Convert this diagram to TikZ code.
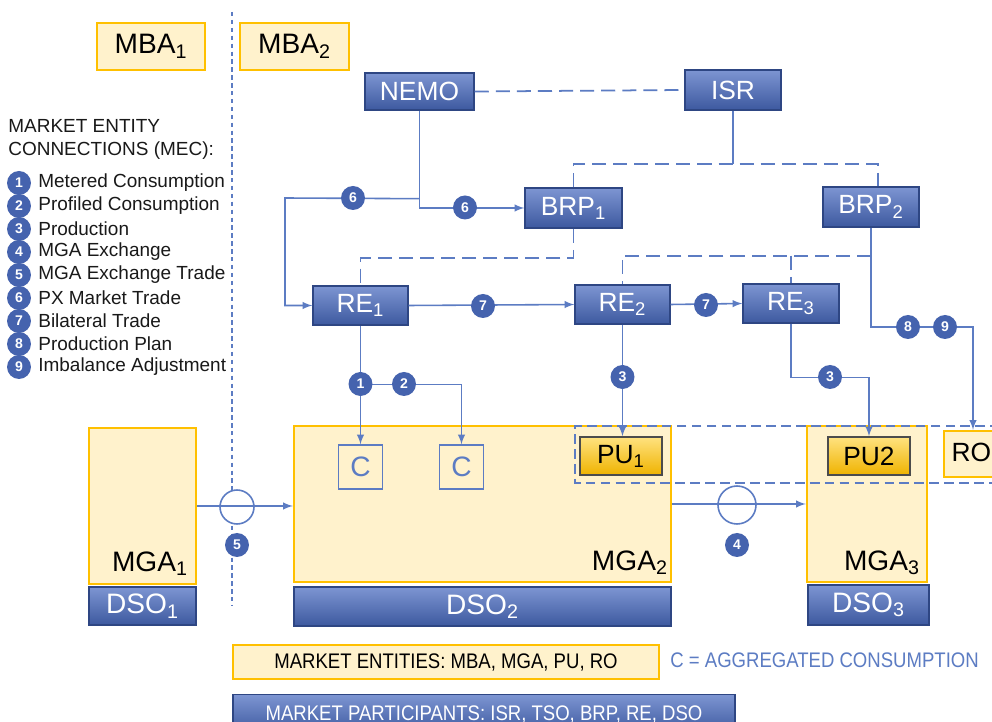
\documentclass[tikz,border=0pt]{standalone}
\usepackage{fontspec}
\setmainfont{Liberation Sans}
\newfontfamily\narrowsans[FakeStretch=0.88]{Liberation Sans}
\usetikzlibrary{calc}

\definecolor{mecblue}{HTML}{4563AE}
\definecolor{linkblue}{HTML}{5C7CC3}
\definecolor{boxtop}{HTML}{7D95D2}
\definecolor{boxbot}{HTML}{3D599F}
\definecolor{boxedge}{HTML}{2E4683}
\definecolor{entfill}{HTML}{FFF2CC}
\definecolor{entedge}{HTML}{FFC000}
\definecolor{putop}{HTML}{FFE27F}
\definecolor{pubot}{HTML}{EFB300}

\tikzset{
  participant/.style={draw=boxedge, line width=0.8pt, top color=boxtop, bottom color=boxbot,
    text=white, inner sep=0pt, font=\fontsize{15}{15}\selectfont},
  entity/.style={draw=entedge, line width=1.4pt, fill=entfill, inner sep=0pt},
  produnit/.style={draw=black!70, line width=0.9pt, top color=putop, bottom color=pubot,
    inner sep=0pt, minimum width=1.64cm, minimum height=0.76cm, font=\fontsize{15}{15}\selectfont},
  aggbox/.style={draw=linkblue, line width=0.8pt, text=linkblue, inner sep=0pt,
    minimum width=0.88cm, minimum height=0.88cm, font=\fontsize{16}{16}\selectfont},
  badge/.style={circle, fill=mecblue, text=white, inner sep=0pt, minimum size=0.48cm,
    font=\bfseries\fontsize{8}{8}\selectfont},
  exchange/.style={circle, draw=linkblue, line width=0.9pt, fill=white, inner sep=0pt},
  link/.style={draw=linkblue, line width=0.9pt},
  flow/.style={link, -latex},
  relation/.style={draw=linkblue, line width=1pt, dash pattern=on 8pt off 4pt},
  legendtext/.style={text=black!90, inner sep=0pt, font=\fontsize{10.8}{13}\selectfont},
}

\begin{document}
\begin{tikzpicture}[x=0.02cm, y=-0.02cm]
    \path[use as bounding box, fill=white] (0,0) rectangle (992,722);
    \clip (0,0) rectangle (992,722);

    % bidding areas and border between them
    \node[entity, minimum width=2.16cm, minimum height=0.94cm, font=\fontsize{16}{16}\selectfont] (mba1) at (151,46.5) {MBA\textsubscript{1}};
    \node[entity, minimum width=2.18cm, minimum height=0.94cm, font=\fontsize{16}{16}\selectfont] (mba2) at (294.5,46.5) {MBA\textsubscript{2}};
    \draw[linkblue, line width=1pt, dash pattern=on 2.5pt off 2pt] (232,12) -- (232,605);

    % legend
    \node[legendtext, anchor=north west, align=left] (mectitle) at (8,119) {MARKET ENTITY\\CONNECTIONS (MEC):};
    \foreach \n/\txt in {1/Metered Consumption, 2/Profiled Consumption, 3/Production,
        4/MGA Exchange, 5/MGA Exchange Trade, 6/PX Market Trade, 7/Bilateral Trade,
        8/Production Plan, 9/Imbalance Adjustment} {
      \node[badge] (mec\n) at (19,{160+23*\n}) {\n};
      \node[legendtext, anchor=west] (mectxt\n) at (38,{160+23*\n}) {\txt};
    }

    % market participants
    \node[participant, minimum width=2.18cm, minimum height=0.74cm] (nemo) at (419.5,91.5) {NEMO};
    \node[participant, minimum width=1.92cm, minimum height=0.80cm] (isr) at (733,90) {ISR};
    \node[participant, minimum width=1.94cm, minimum height=0.80cm] (brp1) at (573.5,208) {BRP\textsubscript{1}};
    \node[participant, minimum width=1.92cm, minimum height=0.80cm] (brp2) at (871,207) {BRP\textsubscript{2}};
    \node[participant, minimum width=1.90cm, minimum height=0.78cm] (re1) at (360.5,305.5) {RE\textsubscript{1}};
    \node[participant, minimum width=1.90cm, minimum height=0.78cm] (re2) at (622.5,304.5) {RE\textsubscript{2}};
    \node[participant, minimum width=1.92cm, minimum height=0.78cm] (re3) at (791,303.5) {RE\textsubscript{3}};

    % metering grid areas
    \node[entity, minimum width=2.14cm, minimum height=3.12cm] (mga1) at (142.5,506) {};
    \node[entity, minimum width=7.54cm, minimum height=3.12cm] (mga2) at (482.5,504) {};
    \node[entity, minimum width=2.40cm, minimum height=3.12cm] (mga3) at (867,504) {};
    \node[entity, minimum width=1.32cm, minimum height=0.92cm, font=\fontsize{15}{15}\selectfont] (ro) at (977,454) {RO\textsubscript{1}};
    \node[anchor=base east, inner sep=0pt, font=\fontsize{16}{16}\selectfont] (mga1lbl) at ($(mga1.south east)+(-9,-14)$) {MGA\textsubscript{1}};
    \node[anchor=base east, inner sep=0pt, font=\fontsize{16}{16}\selectfont] (mga2lbl) at ($(mga2.south east)+(-4,-13)$) {MGA\textsubscript{2}};
    \node[anchor=base east, inner sep=0pt, font=\fontsize{16}{16}\selectfont] (mga3lbl) at ($(mga3.south east)+(-8,-13)$) {MGA\textsubscript{3}};
    \node[participant, minimum width=2.14cm, minimum height=0.76cm, font=\fontsize{16}{16}\selectfont] (dso1) at (142.5,606) {DSO\textsubscript{1}};
    \node[participant, minimum width=7.54cm, minimum height=0.78cm, font=\fontsize{16}{16}\selectfont] (dso2) at (482.5,606.5) {DSO\textsubscript{2}};
    \node[participant, minimum width=2.42cm, minimum height=0.80cm, font=\fontsize{16}{16}\selectfont] (dso3) at (868.5,605) {DSO\textsubscript{3}};

    \draw[linkblue, line width=1.3pt, dash pattern=on 5.5pt off 3pt] (1000,426) -- (575,426) -- (575,483) -- (1000,483);

    \node[aggbox] (c1) at (360.5,467) {C};
    \node[aggbox] (c2) at (461.5,467) {C};
    \node[produnit] (pu1) at (621,456) {PU\textsubscript{1}};
    \node[produnit] (pu2) at (869,456) {PU2};

    % relations
    \draw[relation] (nemo.east) -- (isr.west);
    \draw[link] (isr.south) -- ++(0,53) coordinate (isrjoin);
    \draw[relation] (brp1.north) |- (isrjoin) -| ($(brp2.north)+(7,0)$);
    \draw[relation] (brp1.south) -- ++(0,29) -| (re1.north);
    \coordinate (brpjoin) at ($(brp2.south)+(0,28)$);
    \draw[relation] (brpjoin) -| (re2.north);
    \draw[relation] (re3.north |- brpjoin) -- (re3.north);

    % connections
    \coordinate (pxjoin) at ($(nemo.south)+(0,88)$);
    \coordinate (pxleft) at (285,198);
    \draw[flow] (nemo.south) |- (brp1.west);
    \draw[flow] (pxjoin) -- (pxleft) |- (re1.west);
    \draw[flow] (re1.east) -- (re2.west);
    \draw[flow] (re2.east) -- (re3.west);
    \draw[flow] (re1.south) -- (c1.north);
    \coordinate (consjoin) at ($(re1.south)+(0,59)$);
    \draw[flow] (consjoin) -| (c2.north);
    \draw[flow] (re2.south) -- (re2.south |- pu1.north);
    \draw[flow] (re3.south) -- ++(0,54) -| (pu2.north);
    \coordinate (planturn) at (973,327);
    \draw[flow] (brp2.south) |- (planturn) -- (planturn |- ro.north);

    \node[exchange, minimum size=0.68cm] (mex1) at (237,507) {};
    \node[exchange, minimum size=0.76cm] (mex2) at (737,505) {};
    \draw[flow] (mga1.east) -- (mga2.west |- mga1.east);
    \draw[flow] (mga2.east) -- (mga3.west);

    \node[badge] (b6a) at (353,198) {6};
    \node[badge] (b6b) at (465,207.5) {6};
    \node[badge] (b7a) at (483,306) {7};
    \node[badge] (b7b) at (706,305) {7};
    \node[badge] (b1) at (360.5,384) {1};
    \node[badge] (b2) at (404,384) {2};
    \node[badge] (b3a) at (622.5,377) {3};
    \node[badge] (b3b) at (830,377) {3};
    \node[badge] (b8) at (908,327) {8};
    \node[badge] (b9) at (945,327) {9};
    \node[badge] (b5) at (237,545) {5};
    \node[badge] (b4) at (737,545) {4};

    % key
    \node[entity, minimum width=8.52cm, minimum height=0.68cm, font=\narrowsans\fontsize{12}{12}\selectfont] (entkey) at (446,662) {MARKET ENTITIES: MBA, MGA, PU, RO};
    \node[anchor=west, inner sep=0pt, text=linkblue, font=\narrowsans\fontsize{12}{12}\selectfont] (aggkey) at (670,660) {C = AGGREGATED CONSUMPTION};
    \node[participant, minimum width=10.04cm, minimum height=0.78cm, font=\narrowsans\fontsize{12}{12}\selectfont] (partkey) at (484,714) {MARKET PARTICIPANTS: ISR, TSO, BRP, RE, DSO};
\end{tikzpicture}
\end{document}
